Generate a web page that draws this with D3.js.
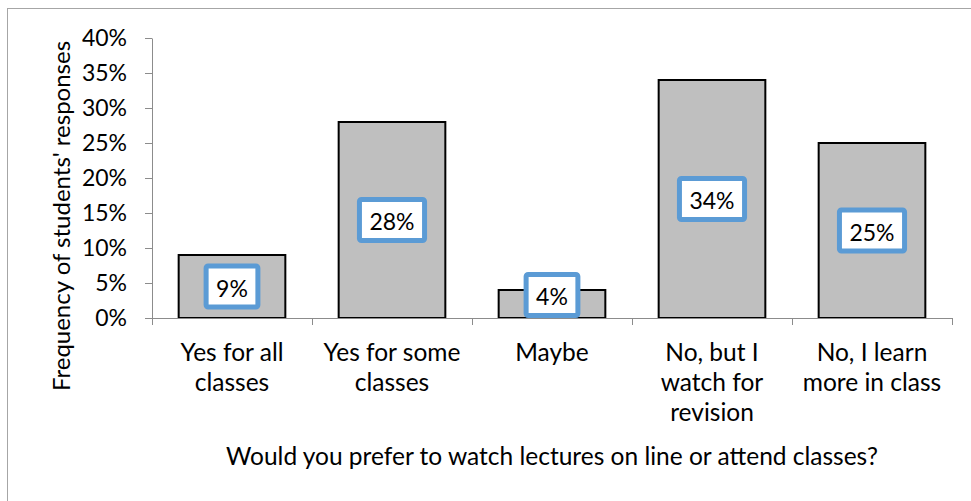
<!DOCTYPE html>
<html>
<head>
<meta charset="utf-8">
<script src="https://cdn.jsdelivr.net/npm/d3@7"></script>
<style>
  html, body { margin: 0; padding: 0; background: #fff; }
  svg { display: block; }
  text { font-family: Lato, "Open Sans", sans-serif; fill: #000; }
</style>
</head>
<body>
<svg id="chart" width="971" height="501"></svg>
<script>
// Survey responses: share of students per answer
const categories = [
  ["Yes for all", "classes"],
  ["Yes for some", "classes"],
  ["Maybe"],
  ["No, but I", "watch for", "revision"],
  ["No, I learn", "more in class"]
];
const values = [0.09, 0.28, 0.04, 0.34, 0.25];
const yTicks = [0, 0.05, 0.10, 0.15, 0.20, 0.25, 0.30, 0.35, 0.40];
const xTitle = "Would you prefer to watch lectures on line or attend classes?";
const yTitle = "Frequency of students' responses";

const W = 971, H = 501;
const margin = { top: 38, right: 19, bottom: 183, left: 152 };
const plotW = W - margin.left - margin.right;
const plotH = H - margin.top - margin.bottom;
const numSize = 23;     // numbers: tick labels and data labels
const textSize = 24.5;  // words: category labels and axis titles
const axisColor = "#8c8c8c";

const svg = d3.select("#chart");

// chart area frame
svg.append("rect")
  .attr("x", 7.5).attr("y", 8.5)
  .attr("width", W + 10).attr("height", H + 10)
  .attr("fill", "none").attr("stroke", "#a6a6a6").attr("stroke-width", 1);

const g = svg.append("g").attr("transform", `translate(${margin.left},${margin.top})`);

const idx = d3.range(values.length);
const x = d3.scaleBand().domain(idx).range([0, plotW]).paddingInner(1 / 3).paddingOuter(1 / 6);
const y = d3.scaleLinear().domain([0, 0.40]).range([plotH, 0]);

// bars
g.selectAll("rect.bar").data(idx).join("rect")
  .attr("class", "bar")
  .attr("x", i => x(i))
  .attr("y", i => y(values[i]))
  .attr("width", x.bandwidth())
  .attr("height", i => plotH - y(values[i]))
  .attr("fill", "#bfbfbf")
  .attr("stroke", "#000")
  .attr("stroke-width", 2);

// y axis
const yAxis = g.append("g")
  .call(d3.axisLeft(y).tickValues(yTicks).tickSize(7).tickSizeOuter(0).tickFormat(d3.format(".0%")).tickPadding(18));
yAxis.select(".domain").attr("stroke", axisColor);
yAxis.selectAll(".tick line").attr("stroke", axisColor);
yAxis.selectAll(".tick text").attr("font-size", numSize).attr("font-family", "Lato, sans-serif").attr("fill", "#000");

// x axis: line plus ticks at band boundaries
const step = x.step();
const bounds = d3.range(values.length + 1).map(k => k * step);
g.append("line")
  .attr("x1", 0).attr("x2", plotW).attr("y1", plotH + 0.5).attr("y2", plotH + 0.5)
  .attr("stroke", axisColor);
g.selectAll("line.xtick").data(bounds).join("line")
  .attr("class", "xtick")
  .attr("x1", d => Math.round(d) + 0.5).attr("x2", d => Math.round(d) + 0.5)
  .attr("y1", plotH).attr("y2", plotH + 7)
  .attr("stroke", axisColor);

// category labels (wrapped)
const lineH = 30;
idx.forEach(i => {
  const t = g.append("text")
    .attr("x", x(i) + x.bandwidth() / 2)
    .attr("y", plotH + 43)
    .attr("text-anchor", "middle")
    .attr("font-size", textSize);
  categories[i].forEach((ln, k) => {
    t.append("tspan").attr("x", x(i) + x.bandwidth() / 2).attr("dy", k === 0 ? 0 : lineH).text(ln);
  });
});

// axis titles
g.append("text")
  .attr("x", plotW / 2).attr("y", plotH + 147)
  .attr("text-anchor", "middle").attr("font-size", textSize)
  .text(xTitle);

svg.append("text")
  .attr("transform", `translate(70,216) rotate(-90)`)
  .attr("text-anchor", "middle").attr("font-size", 24)
  .text(yTitle);

// data labels in boxed callouts, centred on each bar
const boxH = 41, padX = 10;
idx.forEach(i => {
  const lg = g.append("g");
  const txt = lg.append("text")
    .attr("text-anchor", "middle")
    .attr("dominant-baseline", "central")
    .attr("font-size", numSize)
    .text(d3.format(".0%")(values[i]));
  const tw = txt.node().getComputedTextLength();
  const bw = tw + 2 * padX;
  let cy = (y(values[i]) + plotH) / 2;
  cy = Math.min(cy, plotH - boxH / 2 - 2.5);
  const cx = x(i) + x.bandwidth() / 2;
  lg.insert("rect", "text")
    .attr("x", -bw / 2).attr("y", -boxH / 2)
    .attr("width", bw).attr("height", boxH)
    .attr("rx", 2)
    .attr("fill", "#fff").attr("stroke", "#5b9bd5").attr("stroke-width", 5);
  txt.attr("y", 1);
  lg.attr("transform", `translate(${cx},${cy})`);
});
</script>
</body>
</html>
